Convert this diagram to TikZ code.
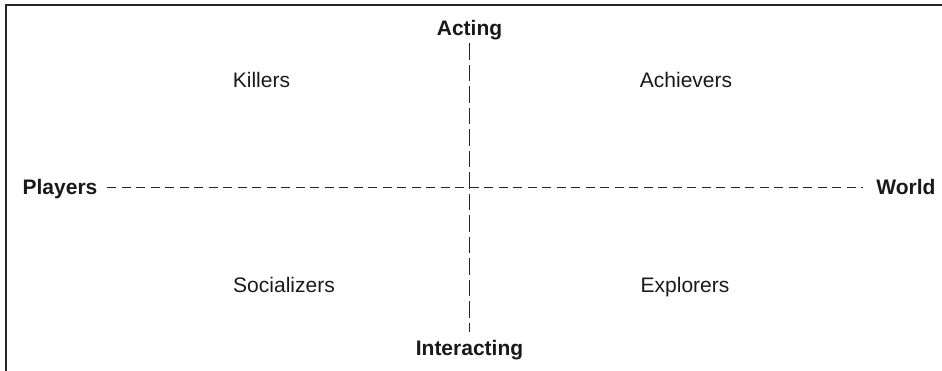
\documentclass[tikz,border=0pt]{standalone}
\usepackage{fontspec}
\setmainfont{Liberation Sans}
\begin{document}
\begin{tikzpicture}
			[x=1pt,y=-1pt,every node/.style={inner sep=2.5pt,
			text=black!90,
			font=\fontsize{21}{25}\selectfont},
			axis/.style={font=\fontsize{21}{25}\selectfont\bfseries},
			quad/.style={anchor=base},
			guide/.style={draw=black!85, line width=0.9pt}]
			\useasboundingbox (0,0) rectangle (942,371);
			\draw[line width=1.3pt, black!85] (6,371) -- (6,5) -- (942,5);

			\node[axis,anchor=base] (acting) at (469.5,36)  {Acting};
			\node[axis,anchor=base] (inter)  at (469.5,355) {Interacting};
			\node[axis,text height=15pt,text depth=0pt] (players) at (60,187)  {Players};
			\node[axis,text height=15pt,text depth=0pt] (world)   at (906,187) {World};

			\node[quad] (kil) at (261.5,88)  {Killers};
			\node[quad] (ach) at (686,88)    {Achievers};
			\node[quad] (soc) at (284,292)   {Socializers};
			\node[quad] (exp) at (685,292)   {Explorers};

			\draw[guide, dash pattern=on 9pt off 5.5pt, shorten <=7pt, shorten >=11pt] (players) -- (world);
			\draw[guide, dash pattern=on 16.5pt off 5pt, shorten >=5.5pt] (acting) -- (inter);
		\end{tikzpicture}
\end{document}
